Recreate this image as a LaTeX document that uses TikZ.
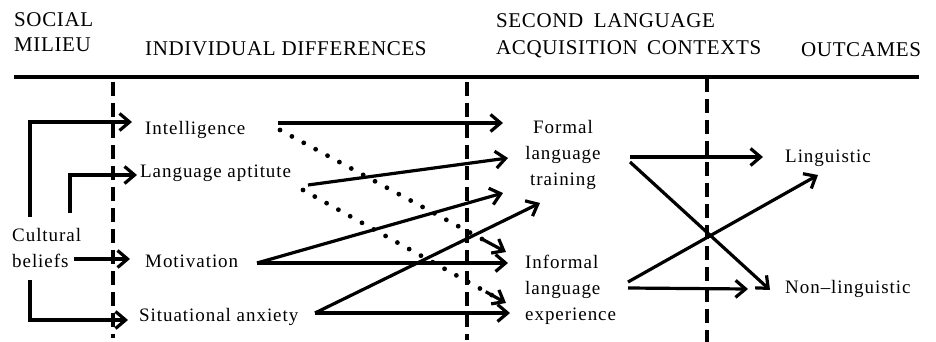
\documentclass[tikz,border=0pt]{standalone}
\usepackage{fontspec}
\setmainfont{Liberation Serif}
\newfontfamily\lblfont[LetterSpace=5,Ligatures=TeX]{Liberation Serif}
\newfontfamily\hdrfont[LetterSpace=3]{Liberation Serif}
\usetikzlibrary{arrows.meta,calc}
\begin{document}
\begin{tikzpicture}[x=1pt,y=-1pt,
  hdr/.style={font=\hdrfont\fontsize{21}{24}\selectfont, inner sep=0pt, anchor=base west},
  lbl/.style={font=\lblfont\fontsize{19}{26}\selectfont, inner sep=0pt, anchor=base west},
  mlbl/.style={font=\lblfont\fontsize{19}{26}\selectfont, inner sep=0pt},
  conn/.style={line width=3.2pt, line join=miter, -{Straight Barb[length=10pt,width=17pt,line width=3.2pt]}},
  dots/.style={line width=4.8pt, line cap=round, dash pattern=on 0pt off 13.5pt},
  dottip/.style={line width=3.2pt, -{Straight Barb[length=10pt,width=16pt,line width=3.2pt]}},
  sepline/.style={line width=3.2pt, dash pattern=on 14pt off 7pt}]
\useasboundingbox (0,0) rectangle (936,342);
% headers
\node[hdr] (h1a) at (14,27) {SOCIAL};
\node[hdr] (h1b) at (14,52) {MILIEU};
\node[hdr] (h2) at (145,56) {INDIVIDUAL DIFFERENCES};
\node[hdr] (h3a) at (496,28) {SECOND\hspace{0.5em}LANGUAGE};
\node[hdr] (h3b) at (496,55) {ACQUISITION\hspace{0.45em}CONTEXTS};
\node[hdr] (h4) at (801,57) {OUTCAMES};
\coordinate (rl) at (14,77);
\coordinate (rr) at (919,77);
\draw[line width=3.6pt] (rl) -- (rr);
% dashed separators
\coordinate (s1t) at (113,82); \coordinate (s1b) at (113,338);
\coordinate (s2t) at (467,82); \coordinate (s2b) at (467,340);
\coordinate (s3t) at (707,78); \coordinate (s3b) at (707,342);
\draw[sepline] (s1t) -- (s1b);
\draw[sepline] (s2t) -- (s2b);
\draw[sepline] (s3t) -- (s3b);
% labels
\node[mlbl, align=left, anchor=north west] (cult) at (12,228) {Cultural\\beliefs};
\node[lbl] (intel) at (145,134) {Intelligence};
\node[lbl] (apt) at (140,177) {Language aptitute};
\node[lbl] (motiv) at (145,267) {Motivation};
\node[lbl] (anx) at (139,321) {Situational anxiety};
\node[mlbl, align=center, anchor=north] (formal) at (563,120) {Formal\\language\\training};
\node[mlbl, align=left, anchor=north west] (informal) at (525,255) {Informal\\language\\experience};
\node[lbl] (ling) at (785,162) {Linguistic};
\node[lbl] (nonling) at (785,293) {Non–linguistic};
% ports
\coordinate (c1) at (30,217); \coordinate (i-in) at (132,122);
\coordinate (c2) at (70,213); \coordinate (a-in) at (137,175);
\coordinate (c3) at (74,259); \coordinate (m-in) at (130,259);
\coordinate (c4) at (30,280); \coordinate (x-in) at (128,320);
\coordinate (i-out) at (278,123); \coordinate (i-dot) at (280,130);
\coordinate (a-out) at (308,185); \coordinate (a-dot) at (303,190);
\coordinate (m-out) at (257,263);
\coordinate (x-out) at (315,313);
\coordinate (f-in1) at (503,123);
\coordinate (f-in2) at (508,158);
\coordinate (f-in3) at (503,193);
\coordinate (f-in4) at (540,203);
\coordinate (n-in1) at (506,252);
\coordinate (n-in2) at (508,263);
\coordinate (n-in3) at (506,303);
\coordinate (n-in4) at (510,313);
\coordinate (f-out1) at (630,157);
\coordinate (f-out2) at (630,162);
\coordinate (n-out1) at (628,282);
\coordinate (n-out2) at (628,288);
\coordinate (l-in1) at (763,157);
\coordinate (l-in2) at (818,175);
\coordinate (nl-in1) at (770,290);
\coordinate (nl-in2) at (748,289);
% cultural beliefs connectors
\draw[conn] (c1) |- (i-in);
\draw[conn] (c2) |- (a-in);
\draw[conn] (c3) -- (m-in);
\draw[conn] (c4) |- (x-in);
% individual differences -> contexts
\draw[conn] (i-out) -- (f-in1);
\draw[conn] (a-out) -- (f-in2);
\draw[conn] (m-out) -- (f-in3);
\draw[conn] (m-out) -- (n-in2);
\draw[conn] (x-out) -- (f-in4);
\draw[conn] (x-out) -- (n-in4);
\draw[dots] (i-dot) -- ($(i-dot)!0.93!(n-in1)$);
\draw[dots] (a-dot) -- ($(a-dot)!0.93!(n-in3)$);
\draw[dottip] ($(i-dot)!0.9!(n-in1)$) -- (n-in1);
\draw[dottip] ($(a-dot)!0.9!(n-in3)$) -- (n-in3);
% contexts -> outcomes
\draw[conn] (f-out1) -- (l-in1);
\draw[conn] (f-out2) -- (nl-in1);
\draw[conn] (n-out1) -- (l-in2);
\draw[conn] (n-out2) -- (nl-in2);
\end{tikzpicture}
\end{document}
